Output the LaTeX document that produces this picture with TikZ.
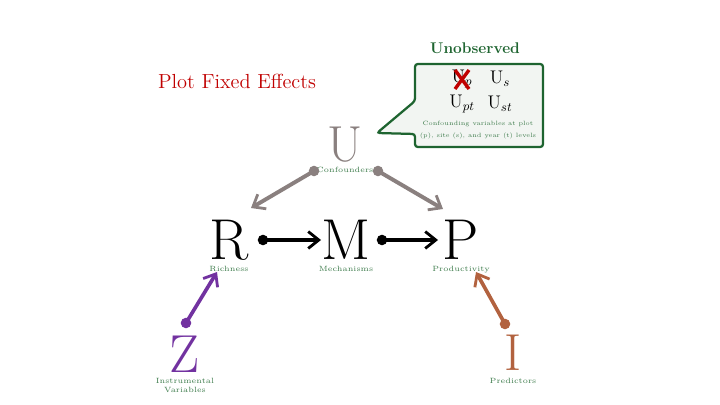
\documentclass[tikz,border=0pt]{standalone}
\usepackage{amsmath}
\usepackage{tikz}
\usetikzlibrary{positioning, arrows.meta}

\definecolor{fxred}{HTML}{C00000}
\definecolor{lblgreen}{HTML}{3E7C4C}
\definecolor{boxgreen}{HTML}{1E6430}
\definecolor{boxfill}{HTML}{F2F5F2}
\definecolor{confgray}{HTML}{8A807F}
\definecolor{ivpurple}{HTML}{7232A0}
\definecolor{predbrown}{HTML}{B2623F}

\tikzset{
  bigvar/.style={inner sep=0pt, font=\fontsize{41}{41}\selectfont},
  smalllbl/.style={text=lblgreen, inner sep=0pt, font=\fontsize{5.4}{6.5}\selectfont, align=center},
  dotnode/.style={circle, fill, inner sep=0pt, minimum size=7.5pt},
  causal/.style={line width=2.2pt, -{Straight Barb[length=7.5pt, width=12pt, line width=2pt]}},
}

\begin{document}
\begin{tikzpicture}[x=0.025cm, y=-0.025cm]
        % Canvas
        \useasboundingbox (0,0) rectangle (720,405);

        % Title
        \node[text=fxred, font=\fontsize{14.5}{16}\selectfont] (title) at (237,81) {Plot Fixed Effects};

        % Callout with the unobserved confounders
        \node[text=boxgreen, font=\bfseries\fontsize{11}{12}\selectfont] (unobs) at (475,48) {Unobserved};
        \draw[boxgreen, fill=boxfill, line width=1.6pt, rounded corners=2pt]
          (415,64) -- (543,64) -- (543,147) -- (415,147) -- (415,134) -- (377,133)
          -- (415,101) -- cycle;
        \node[font=\fontsize{13}{13}\selectfont] (up) at (462,79) {U$_p$};
        \node[font=\fontsize{13}{13}\selectfont] (us) at (500,79) {U$_s$};
        \node[font=\fontsize{13}{13}\selectfont] (upt) at (462,104) {U$_{pt}$};
        \node[font=\fontsize{13}{13}\selectfont] (ust) at (500,104) {U$_{st}$};
        \draw[fxred, line width=2.4pt] (455,70) -- (469,89);
        \draw[fxred, line width=2.4pt] (469,70) -- (455,89);
        \node[smalllbl, font=\fontsize{4.4}{8.4}\selectfont] (boxtext) at (478,130)
          {Confounding variables at plot\\(p), site (s), and year (t) levels};

        % Confounders
        \node[bigvar, text=confgray, font=\fontsize{36}{36}\selectfont] (U) at (345,145) {U};
        \node[smalllbl, below=3pt of U] (Ulbl) {Confounders};
        \node[dotnode, fill=confgray] (Udotl) at (314,171) {};
        \node[dotnode, fill=confgray] (Udotr) at (378,171) {};

        % Main chain
        \node[bigvar] (R) at (229,240) {R};
        \node[bigvar] (M) at (346,240) {M};
        \node[bigvar] (P) at (461,240) {P};
        \node[smalllbl, below=4pt of R] (Rlbl) {Richness};
        \node[smalllbl, below=4pt of M] (Mlbl) {Mechanisms};
        \node[smalllbl, below=4pt of P] (Plbl) {Productivity};

        \node[dotnode, fill=black] (Rdot) at (263,240) {};
        \node[dotnode, fill=black] (Mdot) at (382,240) {};
        \coordinate (Min) at (321,240);
        \coordinate (Pin) at (438,240);
        \draw[causal, black] (Rdot.center) -- (Min);
        \draw[causal, black] (Mdot.center) -- (Pin);

        \coordinate (Rtop) at (251,208);
        \coordinate (Ptop) at (443,209);
        \draw[causal, confgray, line width=2.8pt] (Udotl.center) -- (Rtop);
        \draw[causal, confgray, line width=2.8pt] (Udotr.center) -- (Ptop);

        % Instrument
        \node[bigvar, text=ivpurple, font=\fontsize{38}{38}\selectfont] (Z) at (185,354) {Z};
        \node[smalllbl, below=4pt of Z] (Zlbl) {Instrumental\\Variables};
        \node[dotnode, fill=ivpurple] (Zdot) at (186,323) {};
        \coordinate (Rbot) at (217,272);
        \draw[causal, ivpurple, line width=2.6pt] (Zdot.center) -- (Rbot);

        % Predictors
        \node[bigvar, text=predbrown, font=\fontsize{37}{37}\selectfont] (I) at (513,353) {I};
        \node[smalllbl, below=5pt of I] (Ilbl) {Predictors};
        \node[dotnode, fill=predbrown] (Idot) at (505,324) {};
        \coordinate (Pbot) at (476,272);
        \draw[causal, predbrown, line width=2.6pt] (Idot.center) -- (Pbot);
    \end{tikzpicture}
\end{document}
